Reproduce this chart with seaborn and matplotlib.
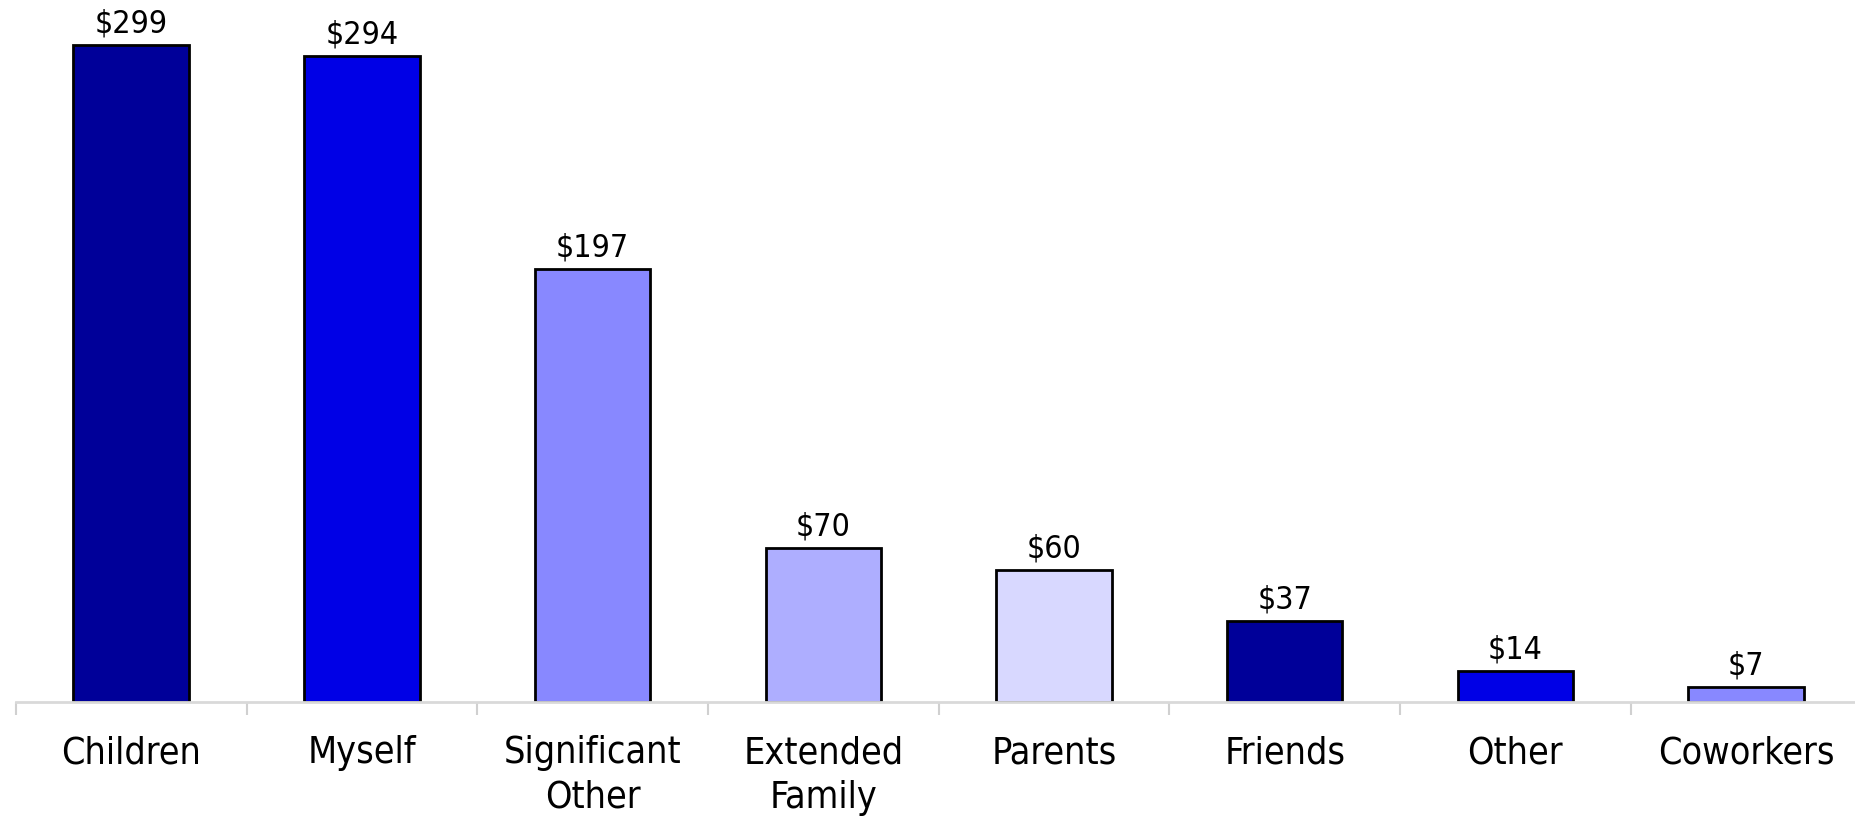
import matplotlib
matplotlib.use("Agg")
import matplotlib.pyplot as plt
import seaborn as sns
import pandas as pd
from matplotlib.ticker import FixedLocator

# Average spending per recipient
categories = ["Children", "Myself", "Significant\nOther", "Extended\nFamily",
              "Parents", "Friends", "Other", "Coworkers"]
amounts = [299, 294, 197, 70, 60, 37, 14, 7]
bar_colors = ["#000099", "#0000E6", "#8888FF", "#AEAEFF",
              "#D8D8FF", "#000099", "#0000E6", "#8888FF"]

sns.set_theme(style="white")
plt.rcParams["font.family"] = ["DejaVu Sans"]
plt.rcParams["font.stretch"] = "condensed"

df = pd.DataFrame({"recipient": categories, "amount": amounts})

fig = plt.figure(figsize=(18.55, 8.16), dpi=100)
ax = fig.add_axes([15.8 / 1855, 114 / 816, 1845.6 / 1855, 702 / 816])

sns.barplot(data=df, x="recipient", y="amount", hue="recipient",
            palette=bar_colors, saturation=1, legend=False, width=0.5,
            edgecolor="black", linewidth=2, ax=ax, zorder=2)

ax.set_xlim(-0.5, len(categories) - 0.5)
ax.set_ylim(0, 319.5)

for i, v in enumerate(amounts):
    ax.annotate(f"${v}", xy=(i, v), xytext=(0, 15), textcoords="offset points",
                ha="center", va="center", fontsize=23, color="black",
                fontstretch="condensed")

# Category labels under the axis, separators at category boundaries
ax.tick_params(axis="x", which="major", length=0, pad=24, labelsize=27,
               labelcolor="black")
ax.xaxis.set_minor_locator(FixedLocator([i - 0.5 for i in range(len(categories) + 1)]))
ax.tick_params(axis="x", which="minor", length=9, width=1.5, color="#D0D0D0",
               direction="out", bottom=True)
for lbl in ax.get_xticklabels():
    lbl.set_linespacing(1.3)
    lbl.set_fontstretch("condensed")

ax.set_yticks([])
ax.set_xlabel("")
ax.set_ylabel("")
for side in ["left", "right", "top"]:
    ax.spines[side].set_visible(False)
ax.spines["bottom"].set_color("#D9D9D9")
ax.spines["bottom"].set_linewidth(2)
ax.spines["bottom"].set_zorder(5)

fig.savefig("out.png", dpi=100)
